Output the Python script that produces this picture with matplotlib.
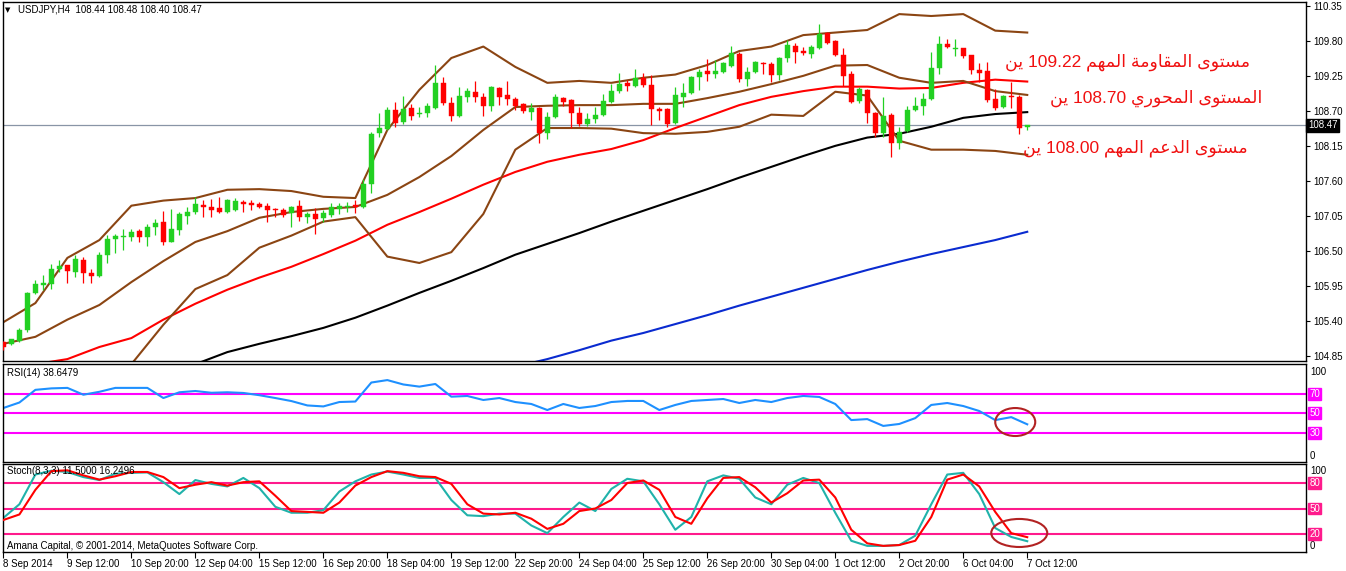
import numpy as np
import matplotlib
matplotlib.use("Agg")
import matplotlib.pyplot as plt
from matplotlib.patches import Ellipse

# ---------------- data ----------------
OPEN = [105.07,105.04,105.08,105.26,105.84,105.97,105.98,106.22,106.28,106.17,
        106.36,106.15,106.11,106.44,106.69,106.72,106.72,106.81,106.72,106.88,
        106.96,106.64,106.83,107.05,107.11,107.22,107.19,107.18,107.11,107.14,
        107.27,107.25,107.24,107.21,107.16,107.14,107.10,107.21,107.03,107.08,
        107.02,107.06,107.16,107.19,107.22,107.19,107.55,108.35,108.42,108.72,
        108.53,108.75,108.65,108.67,108.75,109.14,108.83,108.62,108.92,109.00,
        108.92,108.78,109.06,108.95,108.89,108.81,108.68,108.75,108.35,108.61,
        108.90,108.87,108.67,108.50,108.57,108.64,108.84,109.01,109.14,109.09,
        109.22,109.11,108.73,108.73,108.51,108.92,108.98,109.23,109.33,109.28,
        109.31,109.41,109.60,109.20,109.31,109.45,109.44,109.27,109.53,109.72,
        109.64,109.60,109.69,109.93,109.80,109.58,109.28,108.86,109.03,108.67,
        108.35,108.64,108.20,108.39,108.72,108.78,108.89,109.38,109.75,109.67,
        109.69,109.58,109.34,109.33,108.89,108.76,108.94,108.92,108.44]
HIGH = [105.09,105.12,105.29,105.86,106.04,106.12,106.30,106.36,106.28,106.44,
        106.41,106.22,106.48,106.75,106.77,106.85,106.85,106.85,106.92,107.00,
        107.13,107.16,107.11,107.19,107.35,107.30,107.32,107.35,107.32,107.33,
        107.30,107.30,107.27,107.25,107.17,107.17,107.21,107.30,107.11,107.17,
        107.14,107.25,107.25,107.27,107.30,107.63,108.37,108.67,108.76,108.84,
        108.94,108.81,108.76,108.83,109.42,109.23,108.92,109.08,109.06,109.17,
        108.98,109.09,109.08,109.17,108.92,108.83,108.83,108.76,108.68,108.97,
        108.92,108.89,108.76,108.67,108.76,108.97,109.12,109.30,109.19,109.36,
        109.30,109.27,108.76,108.75,109.08,109.14,109.25,109.36,109.52,109.50,
        109.47,109.72,109.63,109.39,109.49,109.47,109.47,109.55,109.82,109.77,
        109.71,109.74,110.07,109.94,109.82,109.69,109.33,109.08,109.05,108.68,
        108.92,108.67,108.45,108.78,108.92,108.98,109.63,109.88,109.83,109.83,
        109.69,109.58,109.45,109.47,109.05,108.95,109.16,108.95,108.48]
LOW = [104.94,105.02,105.07,105.23,105.82,105.89,105.90,106.17,106.00,106.09,
       106.00,106.00,106.09,106.31,106.47,106.52,106.66,106.64,106.58,106.75,
       106.59,106.64,106.75,106.92,107.08,107.03,107.03,107.09,107.10,107.12,
       107.11,107.14,107.17,106.96,107.03,107.03,106.88,106.97,106.94,106.77,
       106.96,107.03,107.08,107.11,107.10,107.17,107.41,108.29,108.40,108.45,
       108.50,108.56,108.61,108.61,108.73,108.79,108.54,108.61,108.84,108.84,
       108.62,108.70,108.79,108.79,108.72,108.67,108.56,108.20,108.26,108.59,
       108.78,108.43,108.46,108.46,108.51,108.62,108.83,108.98,109.01,109.08,
       109.08,108.48,108.56,108.45,108.49,108.76,108.97,109.03,109.17,109.22,
       109.30,109.39,109.16,109.09,109.30,109.28,109.16,109.19,109.47,109.45,
       109.58,109.53,109.67,109.75,109.56,109.09,108.83,108.83,108.51,108.29,
       108.29,107.97,108.10,108.37,108.70,108.64,108.87,109.28,109.69,109.56,
       109.53,109.28,109.16,108.84,108.72,108.75,108.75,108.34,108.40]
CLOSE = [104.99,105.12,105.26,105.84,105.98,106.00,106.22,106.26,106.19,106.37,
         106.15,106.11,106.44,106.69,106.74,106.74,106.80,106.72,106.88,106.94,
         106.64,106.85,107.08,107.11,107.24,107.19,107.14,107.11,107.30,107.29,
         107.24,107.22,107.19,107.14,107.14,107.07,107.19,107.03,107.08,107.00,
         107.10,107.19,107.21,107.21,107.19,107.55,108.34,108.43,108.72,108.51,
         108.73,108.62,108.67,108.78,109.14,108.83,108.62,108.94,109.01,108.92,
         108.78,109.08,108.92,108.89,108.78,108.70,108.75,108.35,108.61,108.92,
         108.84,108.67,108.50,108.57,108.64,108.86,109.01,109.12,109.09,109.22,
         109.11,108.73,108.70,108.50,108.95,108.98,109.23,109.31,109.28,109.33,
         109.45,109.61,109.20,109.31,109.47,109.44,109.27,109.53,109.74,109.63,
         109.61,109.71,109.91,109.77,109.58,109.25,108.84,109.05,108.67,108.35,
         108.62,108.20,108.37,108.72,108.78,108.89,109.38,109.75,109.71,109.69,
         109.56,109.34,109.30,108.87,108.75,108.94,108.92,108.43,108.47]

# indicator lines, one value every 4 bars (bar 0, 4, ..., 128)
LINE_IDX = list(range(0, 129, 4))
NA = float("nan")
BB_UPPER = [105.38,105.68,106.39,106.67,107.21,107.29,107.33,107.46,107.47,107.44,
            107.35,107.33,108.40,109.03,109.53,109.71,109.39,109.14,109.17,109.14,
            109.22,109.27,109.42,109.64,109.71,109.89,109.93,109.97,110.22,110.19,
            110.22,109.96,109.93]
BB_MIDDLE = [105.04,105.15,105.42,105.65,106.01,106.34,106.64,106.81,107.02,107.11,
             107.16,107.19,107.38,107.66,107.99,108.40,108.76,108.78,108.79,108.79,
             108.81,108.81,108.90,109.00,109.12,109.25,109.41,109.42,109.22,109.14,
             109.17,109.01,108.95]
BB_LOWER = [NA,NA,NA,NA,104.72,105.34,105.90,106.12,106.55,106.74,
            106.96,107.03,106.41,106.31,106.48,107.08,108.09,108.43,108.43,108.42,
            108.35,108.34,108.37,108.45,108.64,108.62,109.00,108.94,108.23,108.09,
            108.09,108.07,108.01]
MA_RED = [NA,104.72,104.80,104.99,105.13,105.42,105.67,105.89,106.08,106.25,
          106.45,106.66,106.91,107.11,107.32,107.54,107.74,107.90,108.01,108.10,
          108.24,108.43,108.61,108.79,108.92,109.01,109.08,109.08,109.05,109.06,
          109.14,109.19,109.16]
MA_BLACK = [NA,NA,NA,NA,NA,NA,104.72,104.91,105.04,105.16,
            105.29,105.45,105.64,105.84,106.03,106.23,106.44,106.61,106.78,106.96,
            107.13,107.30,107.47,107.65,107.82,107.99,108.15,108.28,108.34,108.45,
            108.59,108.65,108.68]
MA_BLUE = [NA,NA,NA,NA,NA,NA,NA,NA,NA,NA,
           NA,NA,NA,NA,NA,NA,104.68,104.80,104.94,105.09,
           105.21,105.35,105.49,105.64,105.78,105.92,106.06,106.20,106.33,106.45,
           106.56,106.67,106.80]

# oscillators, one value every 2 bars (bar 0, 2, ..., 128)
OSC_IDX = list(range(0, 129, 2))
RSI = [55.4,61,74,75.5,76,69,72,76,76,76,65.6,71.5,72.8,71,71.5,70.8,68.5,65.6,62.5,58,
       57,61.5,62,81.5,84,79.5,77.3,80,67,67.7,63.6,65.6,61.5,59.5,53.3,59.5,55.4,57.4,61.5,62.6,
       62.6,53.3,58.5,62.6,63.6,64.6,60.5,63.6,61.5,65.6,67.7,66.7,59.5,43,44,37,39,45,58.5,60.5,
       57.4,52.3,43,46,38.65]
STOCH_MAIN = [39,55,90,94.5,93,87,83.5,91,92,92.5,81,67,83.5,79,76,86,74,52,45,45,
              48,70,82,90,93.5,90,86,86,60,42,41,44,44,30,21,40,57,47,73,85,
              82,55,25,40,82,89,85,63,55,78,86,80,45,12,6,6,7,18,55,90,
              92,67,27,16.5,11.5]
STOCH_SIGNAL = [36.5,43,72,94,95,89,84,88,93,93,87,74,78,81,77,81,82,65,47,46,
                45,57,77,87,94,92,88,87,79,55,44,43,45,38,26,32,47,50,60,80,
                83,72,40,32,62,86,87,75,57,68,83,84,63,25,9,6,7,12,40,84,
                90,76,46,21,16.25]

PRICE_TICKS = [110.35,109.80,109.25,108.70,108.15,107.60,107.05,106.50,105.95,105.40,104.85]
LAST_PRICE = 108.47
RSI_LEVELS = [70, 50, 30]
STOCH_LEVELS = [80, 50, 20]
X_LABEL_IDX = list(range(0, 129, 8))
X_LABELS = ["8 Sep 2014","9 Sep 12:00","10 Sep 20:00","12 Sep 04:00","15 Sep 12:00",
            "16 Sep 20:00","18 Sep 04:00","19 Sep 12:00","22 Sep 20:00","24 Sep 04:00",
            "25 Sep 12:00","26 Sep 20:00","30 Sep 04:00","1 Oct 12:00","2 Oct 20:00",
            "6 Oct 04:00","7 Oct 12:00"]
TITLE = "USDJPY,H4  108.44 108.48 108.40 108.47"
RSI_TITLE = "RSI(14) 38.6479"
STOCH_TITLE = "Stoch(8,3,3) 11.5000 16.2496"
COPYRIGHT = "Amana Capital, © 2001-2014, MetaQuotes Software Corp."
NOTES = ["مستوى المقاومة المهم 109.22 ين",
         "المستوى المحوري 108.70 ين",
         "مستوى الدعم المهم 108.00 ين"]
NOTE_Y = [109.47, 108.89, 108.12]
NOTE_X = [155.9, 157.4, 155.6]

# ---------------- minimal Arabic shaping for display ----------------
AR_FORMS = {
    '\u0627': ('\uFE8D', '\uFE8E', None, None),
    '\u0629': ('\uFE93', '\uFE94', None, None),
    '\u062A': ('\uFE95', '\uFE96', '\uFE97', '\uFE98'),
    '\u062D': ('\uFEA1', '\uFEA2', '\uFEA3', '\uFEA4'),
    '\u062F': ('\uFEA9', '\uFEAA', None, None),
    '\u0631': ('\uFEAD', '\uFEAE', None, None),
    '\u0633': ('\uFEB1', '\uFEB2', '\uFEB3', '\uFEB4'),
    '\u0639': ('\uFEC9', '\uFECA', '\uFECB', '\uFECC'),
    '\u0642': ('\uFED5', '\uFED6', '\uFED7', '\uFED8'),
    '\u0644': ('\uFEDD', '\uFEDE', '\uFEDF', '\uFEE0'),
    '\u0645': ('\uFEE1', '\uFEE2', '\uFEE3', '\uFEE4'),
    '\u0646': ('\uFEE5', '\uFEE6', '\uFEE7', '\uFEE8'),
    '\u0647': ('\uFEE9', '\uFEEA', '\uFEEB', '\uFEEC'),
    '\u0648': ('\uFEED', '\uFEEE', None, None),
    '\u0649': ('\uFEEF', '\uFEF0', None, None),
    '\u064A': ('\uFEF1', '\uFEF2', '\uFEF3', '\uFEF4'),
}

def shape_word(w):
    out = []
    for k, ch in enumerate(w):
        f = AR_FORMS.get(ch)
        if f is None:
            out.append(ch)
            continue
        prev = w[k - 1] if k > 0 else None
        nxt = w[k + 1] if k + 1 < len(w) else None
        jp = prev in AR_FORMS and AR_FORMS[prev][2] is not None
        jn = (nxt in AR_FORMS) and f[2] is not None
        if jp and jn:
            g = f[3]
        elif jp:
            g = f[1]
        elif jn:
            g = f[2]
        else:
            g = f[0]
        out.append(g)
    return ''.join(reversed(out))

def visual(s):
    words = s.split(' ')
    return ' '.join(shape_word(w) if any(c in AR_FORMS for c in w) else w
                    for w in reversed(words))

# ---------------- figure ----------------
plt.rcParams['font.family'] = ['Liberation Sans', 'DejaVu Sans']
W, H = 1346, 571
fig = plt.figure(figsize=(W / 100, H / 100), dpi=100)
fig.patch.set_facecolor('white')

def axes_px(x0, y0, x1, y1):
    return fig.add_axes([x0 / W, 1 - y1 / H, (x1 - x0) / W, (y1 - y0) / H])

ax = axes_px(3, 2, 1306, 361)
ax_r = axes_px(3, 364, 1306, 462)
ax_s = axes_px(3, 464, 1306, 552)

XMIN, XMAX = -0.05, 162.85
for a in (ax, ax_r, ax_s):
    a.set_xlim(XMIN, XMAX)
    for sp in a.spines.values():
        sp.set_color('black')
        sp.set_linewidth(1.0)
    a.set_facecolor('white')

# --- price panel ---
o = np.array(OPEN); h = np.array(HIGH); l = np.array(LOW); c = np.array(CLOSE)
idx = np.arange(len(c))
up = c >= o
BULL, BEAR = '#22D022', '#FF0000'
cols = np.where(up, BULL, BEAR)
ax.axhline(LAST_PRICE, color='#8995a6', lw=0.9, zorder=1)

li = np.array(LINE_IDX)
BROWN = '#8B4513'
ax.plot(li, MA_BLUE, color='#0A2BD0', lw=1.5, zorder=2)
ax.plot(li, MA_BLACK, color='black', lw=1.5, zorder=2)
ax.plot(li, MA_RED, color='#FF0000', lw=1.5, zorder=2)
ax.plot(li, BB_UPPER, color=BROWN, lw=1.5, zorder=2)
ax.plot(li, BB_MIDDLE, color=BROWN, lw=1.5, zorder=2)
ax.plot(li, BB_LOWER, color=BROWN, lw=1.5, zorder=2)

ax.vlines(idx, l, h, colors=cols, lw=0.9, zorder=3)
body_h = np.maximum(np.abs(c - o), 0.016)
ax.bar(idx, body_h, bottom=np.minimum(o, c), width=0.62, color=cols,
       edgecolor=cols, linewidth=0.3, zorder=4)

ax.set_ylim(104.77, 110.41)
ax.yaxis.tick_right()
ax.set_yticks(PRICE_TICKS)
ax.set_yticklabels([f"{v:.2f}" for v in PRICE_TICKS])
ax.tick_params(axis='y', direction='out', length=3, width=0.8, labelsize=7, pad=2)
ax.set_xticks([])
ax.text(1.0015, LAST_PRICE, f"{LAST_PRICE:.2f}", transform=ax.get_yaxis_transform(),
        ha='left', va='center', fontsize=7, color='white',
        bbox=dict(boxstyle='square,pad=0.15', fc='black', ec='black'))

ax.text(0.0038, 0.978, '\u25BC', transform=ax.transAxes, ha='center', va='center',
        fontsize=5, color='black', family=['DejaVu Sans'])
ax.text(0.0115, 0.978, TITLE, transform=ax.transAxes, ha='left', va='center',
        fontsize=7, color='black')

for txt, xx, yy in zip(NOTES, NOTE_X, NOTE_Y):
    ax.text(xx, yy, visual(txt), ha='right', va='center', fontsize=12.5,
            color='#F01010', family=['Liberation Sans', 'DejaVu Sans'], zorder=6)

# --- RSI panel ---
oi = np.array(OSC_IDX)
ax_r.set_ylim(0, 100.5)
for lv in RSI_LEVELS:
    ax_r.axhline(lv, color='#FF00FF', lw=1.5, zorder=1)
ax_r.plot(oi, RSI, color='#1E90FF', lw=1.5, zorder=2)
ax_r.set_xticks([]); ax_r.set_yticks([])
ax_r.text(0.003, 0.908, RSI_TITLE, transform=ax_r.transAxes, ha='left', va='center',
          fontsize=7, color='black')
ax_r.text(1.003, 92.3, "100", transform=ax_r.get_yaxis_transform(), ha='left',
          va='center', fontsize=7, color='black')
ax_r.text(1.003, 6.2, "0", transform=ax_r.get_yaxis_transform(), ha='left',
          va='center', fontsize=7, color='black')
for lv in RSI_LEVELS:
    ax_r.text(1.0025, lv, str(lv), transform=ax_r.get_yaxis_transform(), ha='left',
              va='center', fontsize=7, color='white',
              bbox=dict(boxstyle='square,pad=0.1', fc='#FF00FF', ec='#FF00FF'))
ax_r.add_patch(Ellipse((126.5, 41), 5.0, 28.7, fill=False, ec='#B22222', lw=1.5, zorder=5))

# --- Stochastic panel ---
PINK = '#FF1A8C'
ax_s.set_ylim(-1.2, 102.4)
for lv in STOCH_LEVELS:
    ax_s.axhline(lv, color=PINK, lw=1.5, zorder=1)
ax_s.plot(oi, STOCH_MAIN, color='#20B2AA', lw=1.5, zorder=2)
ax_s.plot(oi, STOCH_SIGNAL, color='#FF0000', lw=1.5, zorder=3)
ax_s.set_yticks([])
ax_s.text(0.003, 0.92, STOCH_TITLE, transform=ax_s.transAxes, ha='left', va='center',
          fontsize=7, color='black', zorder=6)
ax_s.text(0.003, 0.068, COPYRIGHT, transform=ax_s.transAxes, ha='left', va='center',
          fontsize=7, color='black')
ax_s.text(1.003, 94, "100", transform=ax_s.get_yaxis_transform(), ha='left',
          va='center', fontsize=7, color='black')
ax_s.text(1.003, 5.9, "0", transform=ax_s.get_yaxis_transform(), ha='left',
          va='center', fontsize=7, color='black')
for lv in STOCH_LEVELS:
    ax_s.text(1.0025, lv, str(lv), transform=ax_s.get_yaxis_transform(), ha='left',
              va='center', fontsize=7, color='white',
              bbox=dict(boxstyle='square,pad=0.1', fc=PINK, ec=PINK))
ax_s.add_patch(Ellipse((127.0, 21.2), 7.0, 33.0, fill=False, ec='#B22222', lw=1.5, zorder=5))

ax_s.set_xticks(X_LABEL_IDX)
ax_s.set_xticklabels(X_LABELS, ha='left')
ax_s.tick_params(axis='x', direction='out', length=4, width=0.8, labelsize=7, pad=1)

fig.savefig('out.png', dpi=100, facecolor='white')
